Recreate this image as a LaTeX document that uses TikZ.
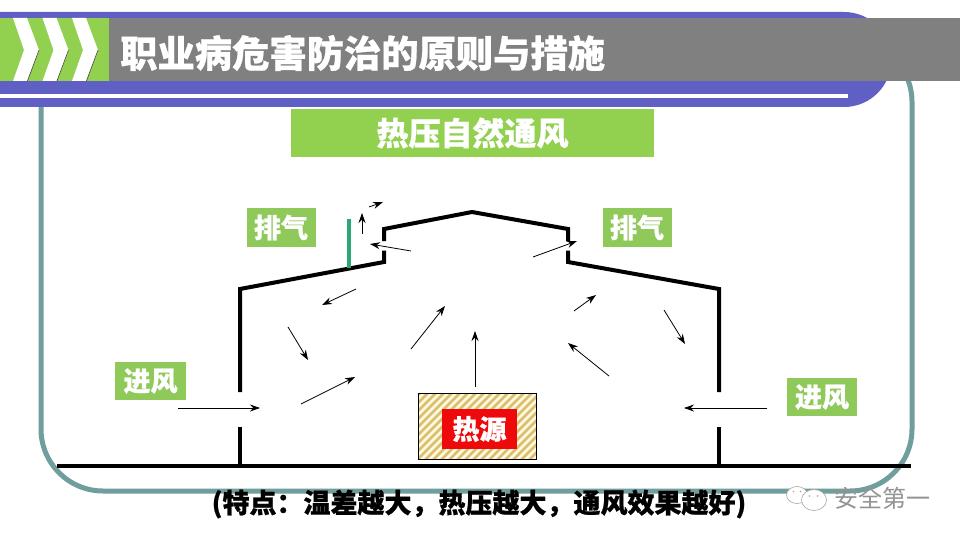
\documentclass[tikz,border=0pt]{standalone}
\usepackage{fontspec}
\setmainfont{Noto Sans CJK SC}
\newfontfamily\heavy[BoldFeatures={FakeBold=0.7}]{Noto Sans CJK SC}
\usetikzlibrary{arrows.meta}
\definecolor{pgreen}{HTML}{92D050}
\definecolor{lgreen}{HTML}{8FC95A}
\definecolor{purp}{HTML}{5F5FC4}
\definecolor{hgray}{HTML}{808080}
\definecolor{teal1}{HTML}{6F9E9C}
\definecolor{barg}{HTML}{2BA873}
\definecolor{hred}{HTML}{EE0A0A}
\definecolor{stripe}{HTML}{DDBE70}
\definecolor{stripebg}{HTML}{FFFBE0}
\tikzset{
  wall/.style={line width=4pt,black,line join=miter},
  flow/.style={-{Stealth[length=10pt,width=7pt]},line width=0.8pt,black},
  tag/.style={fill=lgreen,text=white,font=\heavy\bfseries\fontsize{27}{27}\selectfont,inner sep=0pt,minimum width=69pt,minimum height=39pt},
  chev/.style={fill=white,draw=none}
}
\begin{document}
\begin{tikzpicture}[x=1pt,y=-1pt]
\useasboundingbox (0,0) rectangle (960,540);
\fill[white] (0,0) rectangle (960,540);
% frame
\draw[teal1,line width=5pt,rounded corners=62pt] (41,40) rectangle (912,491);
% header
\fill[purp] (0,12) -- (844,12) arc[start angle=-90,end angle=90,radius=47.5] -- (0,107) -- cycle;
\fill[white] (0,94) rectangle (848,98);
\fill[hgray] (109,18) rectangle (960,81);
\fill[pgreen] (0,18) rectangle (109,81);
\foreach \d in {0,29.5,59}{
  \fill[chev] ({13+\d},18) -- ({27+\d},18) -- ({39+\d},50) -- ({27+\d},81) -- ({13+\d},81) -- ({24+\d},50) -- cycle;
  \draw[black!70,line width=0.6pt] ({39+\d},50) -- ({27.5+\d},81);
}
\node[text=white,font=\heavy\bfseries\fontsize{37.3}{37.3}\selectfont,anchor=west,inner sep=0pt] (title) at (120,53) {职业病危害防治的原则与措施};
\node[fill=pgreen,text=white,font=\heavy\bfseries\fontsize{32}{32}\selectfont,inner sep=0pt,minimum width=363pt,minimum height=48pt] (sub) at (472.5,133) {热压自然通风};
% ground and walls
\draw[wall] (57,466) -- (911,466);
\draw[wall] (240,465) -- (240,427);
\draw[wall] (240,392) -- (240,289) -- (384,262) -- (384,250.5);
\draw[wall] (384,241) -- (384,229) -- (472,212) -- (568,229) -- (568,241);
\draw[wall] (568,250.5) -- (568,262) -- (719,289) -- (719,392);
\draw[wall] (719,427) -- (719,465);
\draw[barg,line width=4pt] (348.5,219) -- (348.5,268);
% labels
\node[tag] (pq1) at (281,227.5) {排气};
\node[tag] (pq2) at (637,227.5) {排气};
\node[tag,minimum width=71pt,minimum height=38pt] (jf1) at (150.5,381) {进风};
\node[tag,minimum width=70pt,minimum height=38pt] (jf2) at (822,397) {进风};
% heat source
\begin{scope}
\clip (418,393) rectangle (536,459);
\fill[stripebg] (418,393) rectangle (536,459);
\foreach \k in {0,8,...,224}{
  \draw[stripe,line width=2.6pt] ({340+\k},465) -- ({340+\k+80},385);
}
\end{scope}
\draw[black,line width=0.8pt] (418,393) rectangle (536,459);
\node[fill=hred,text=white,font=\heavy\bfseries\fontsize{27}{27}\selectfont,inner sep=0pt,minimum width=75pt,minimum height=40pt] (heat) at (479.5,429) {热源};
% arrows
\coordinate (a1) at (369,207); \coordinate (b1) at (383,202);
\coordinate (a2) at (362,234); \coordinate (b2) at (362,213);
\coordinate (a3) at (411,251); \coordinate (b3) at (370,244);
\coordinate (a4) at (356,289); \coordinate (b4) at (322,305);
\coordinate (a5) at (288,327); \coordinate (b5) at (308,360);
\coordinate (a6) at (301,404); \coordinate (b6) at (355,377);
\coordinate (a7) at (411,349); \coordinate (b7) at (445,306);
\coordinate (a8) at (475,387); \coordinate (b8) at (475,331);
\coordinate (a9) at (609,376); \coordinate (b9) at (568,343);
\coordinate (a10) at (574,311); \coordinate (b10) at (596,295);
\coordinate (a11) at (533,257); \coordinate (b11) at (577,241);
\coordinate (a12) at (664,310); \coordinate (b12) at (685,344);
\coordinate (a13) at (178,408); \coordinate (b13) at (260,408);
\coordinate (a14) at (767,408); \coordinate (b14) at (684,408);
\foreach \i in {1,...,14}{ \draw[flow] (a\i) -- (b\i); }
% caption
\node[text=black,font=\heavy\bfseries\fontsize{27}{27}\selectfont,inner sep=0pt] (cap) at (479,504) {(特点：温差越大，热压越大，通风效果越好)};
% watermark
\draw[gray!70,fill=white,line width=0.6pt] (797,495) ellipse[x radius=10.5,y radius=8.5];
\draw[gray!70,fill=white,line width=0.6pt] (814,500) ellipse[x radius=12.5,y radius=10.5];
\fill[gray!70] (793.5,491.5) circle (0.9) (800.5,491.5) circle (0.9) (809.5,496) circle (0.9) (817.5,496) circle (0.9);
\node[text=gray!85,font=\fontsize{24}{24}\selectfont,anchor=west,inner sep=0pt] (wm) at (834,498) {安全第一};
\end{tikzpicture}
\end{document}
